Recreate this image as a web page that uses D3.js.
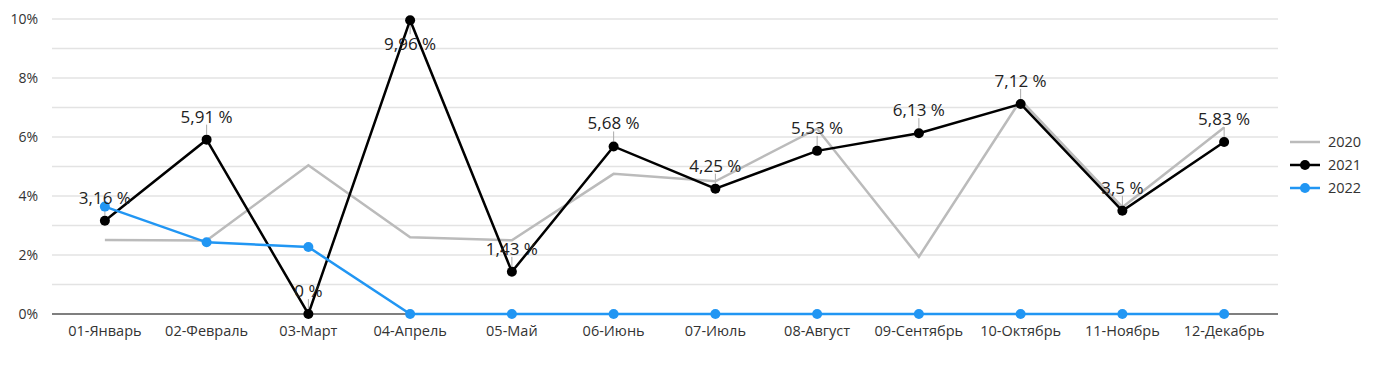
<!DOCTYPE html>
<html><head><meta charset="utf-8">
<script src="https://cdn.jsdelivr.net/npm/d3@7"></script>
<style>body{margin:0;background:#fff}svg{display:block;font-family:"Open Sans",sans-serif}</style>
</head><body><svg id="c" width="1377" height="365"></svg>
<script>
const categories = ["01-Январь","02-Февраль","03-Март","04-Апрель","05-Май","06-Июнь","07-Июль","08-Август","09-Сентябрь","10-Октябрь","11-Ноябрь","12-Декабрь"];
const s2020 = [2.51, 2.49, 5.04, 2.6, 2.5, 4.75, 4.5, 6.28, 1.94, 7.25, 3.62, 6.32];
const s2021 = [3.16, 5.91, 0, 9.96, 1.43, 5.68, 4.25, 5.53, 6.13, 7.12, 3.5, 5.83];
const s2022 = [3.64, 2.43, 2.27, 0, 0, 0, 0, 0, 0, 0, 0, 0];
const seriesNames = ["2020","2021","2022"];
const yTicks = [0,2,4,6,8,10];
const labelBelow = [false,false,false,true,false,false,false,false,false,false,false,false];

const svg = d3.select("#c");
const x = d3.scaleBand().domain(categories).range([54,1275]);
const y = d3.scaleLinear().domain([0,10]).range([314,19]);
const cx = d => x(d)+x.bandwidth()/2;

// gridlines
svg.append("g").selectAll("line").data(d3.range(1,11)).join("line")
  .attr("x1",52).attr("x2",1278).attr("y1",d=>y(d)).attr("y2",d=>y(d))
  .attr("stroke","#e3e3e3").attr("stroke-width",1.5);
// y labels
svg.append("g").selectAll("text").data(yTicks).join("text")
  .attr("x",38).attr("y",d=>y(d)).attr("dy","0.35em").attr("text-anchor","end")
  .attr("font-size",14).attr("fill","#333").text(d=>d+"%");
// x axis
svg.append("line").attr("x1",52).attr("x2",1278).attr("y1",y(0)).attr("y2",y(0)).attr("stroke","#555").attr("stroke-width",1.5);
svg.append("g").selectAll("text").data(categories).join("text")
  .attr("x",d=>cx(d)).attr("y",331).attr("dy","0.35em").attr("text-anchor","middle")
  .attr("font-size",14.5).attr("fill","#333").text(d=>d);

const line = d3.line().x((d,i)=>cx(categories[i])).y(d=>y(d));
function drawSeries(vals,color,markers){
  svg.append("path").datum(vals).attr("d",line).attr("fill","none").attr("stroke",color).attr("stroke-width",2.5).attr("stroke-linejoin","miter");
  if(markers) svg.append("g").selectAll("circle").data(vals).join("circle")
    .attr("cx",(d,i)=>cx(categories[i])).attr("cy",d=>y(d)).attr("r",5).attr("fill",color);
}
// leader lines for labels
svg.append("g").selectAll("line").data(s2021).join("line")
  .attr("x1",(d,i)=>cx(categories[i])).attr("x2",(d,i)=>cx(categories[i]))
  .attr("y1",(d,i)=>labelBelow[i]? y(d)+5 : y(d)-5)
  .attr("y2",(d,i)=>labelBelow[i]? y(d)+14 : y(d)-15)
  .attr("stroke","#aaa").attr("stroke-width",1);
drawSeries(s2020,"#bbbbbb",false);
drawSeries(s2021,"#000000",true);
drawSeries(s2022,"#2196f3",true);
// data labels
svg.append("g").selectAll("text").data(s2021).join("text")
  .attr("x",(d,i)=>cx(categories[i])).attr("y",(d,i)=>labelBelow[i]? y(d)+24 : y(d)-23)
  .attr("dy","0.35em").attr("text-anchor","middle").attr("font-size",17).attr("fill","#222")
  .text(d=>String(d).replace(".",",")+" %");

// legend
const colors = ["#bbbbbb","#000000","#2196f3"];
const lg = svg.append("g").selectAll("g").data(seriesNames).join("g")
  .attr("transform",(d,i)=>`translate(1290,${142+i*23})`);
lg.append("line").attr("x1",0).attr("x2",30).attr("stroke",(d,i)=>colors[i]).attr("stroke-width",2.5);
lg.filter((d,i)=>i>0).append("circle").attr("cx",15).attr("r",5).attr("fill",(d,i)=>colors[i+1]);
lg.append("text").attr("x",38).attr("dy","0.35em").attr("font-size",14.5).attr("fill","#333").text(d=>d);
</script></body></html>
